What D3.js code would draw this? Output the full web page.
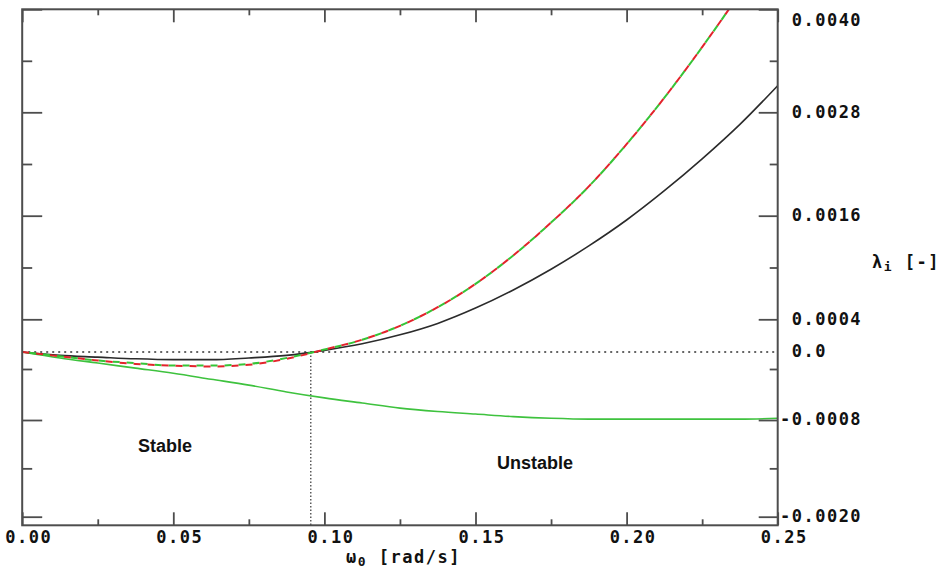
<!DOCTYPE html>
<html><head><meta charset="utf-8">
<script src="https://cdn.jsdelivr.net/npm/d3@7"></script>
<style>body{margin:0;background:#fff;overflow:hidden}</style>
</head><body><svg id="chart" width="942" height="572"></svg>
<script>
// ---- data ----
const omega = [0,0.0125,0.025,0.0375,0.05,0.0625,0.075,0.0875,0.1,0.1125,0.125,0.1375,0.15,0.1625,0.175,0.1875,0.2,0.2125,0.225,0.2375,0.25];
const blackSolid = [0,-0.00004,-0.00006,-0.00008,-0.00009,-0.00009,-0.00007,-0.00004,0.00002,0.00010,0.00021,0.00035,0.00053,0.00074,0.00098,0.00125,0.00155,0.00189,0.00226,0.00266,0.00311];
const redDashed = [0,-0.00005,-0.00010,-0.00014,-0.00016,-0.00017,-0.00015,-0.00008,0.00003,0.00015,0.00032,0.00054,0.00081,0.00114,0.00152,0.00194,0.00243,0.00297,0.00356,0.00419,0.00488];
const greenDashed = [0,-0.00005,-0.00010,-0.00013,-0.00016,-0.00016,-0.00014,-0.00007,0.00003,0.00015,0.00032,0.00054,0.00081,0.00114,0.00152,0.00194,0.00243,0.00297,0.00356,0.00419,0.00488];
const greenSolid = [0,-0.00007,-0.00013,-0.00019,-0.00025,-0.00032,-0.00039,-0.00047,-0.00054,-0.00060,-0.00066,-0.00070,-0.00073,-0.00076,-0.00078,-0.00079,-0.00079,-0.00079,-0.00079,-0.00079,-0.00078];
const xTickValues = [0,0.05,0.1,0.15,0.2,0.25];
const xTickLabels = ["0.00","0.05","0.10","0.15","0.20","0.25"];
const xMinorValues = [0.025,0.075,0.125,0.175,0.225];
const yTickValues = [0.004,0.0028,0.0016,0.0004,0,-0.0008,-0.002];
const yTickLabels = ["0.0040","0.0028","0.0016","0.0004","0.0","-0.0008","-0.0020"];
const yMajorValues = [0.004,0.0028,0.0016,0.0004,-0.0008,-0.002];
const yMinorValues = [0.0034,0.0022,0.001,-0.0002,-0.0014];
const criticalOmega = 0.0955;

// ---- layout ----
const L = 22.2, R = 777.7, T = 9.3, B = 525.3;
const svg = d3.select("#chart");
const x = d3.scaleLinear().domain([0, 0.25]).range([L, R]);
const y = d3.scaleLinear()
  .domain([-0.002, -0.0008, 0, 0.0004, 0.0016, 0.0028, 0.004])
  .range([516.7, 420, 352, 319.3, 215.7, 112.3, T]);

const mono = "'DejaVu Sans Mono', 'Liberation Mono', monospace";
const frameColor = "#4d4d4d";
const fs = 17, ls = 1.5;

svg.append("defs").append("clipPath").attr("id", "plotclip")
  .append("rect").attr("x", L).attr("y", T).attr("width", R - L).attr("height", B - T);

// zero dotted line
svg.append("line").attr("x1", L).attr("x2", R).attr("y1", y(0)).attr("y2", y(0))
  .attr("stroke", "#333").attr("stroke-width", 1.6).attr("stroke-dasharray", "2,4");
// critical vertical dotted line
svg.append("line").attr("x1", x(criticalOmega)).attr("x2", x(criticalOmega)).attr("y1", y(0)).attr("y2", B)
  .attr("stroke", "#333").attr("stroke-width", 1.2).attr("stroke-dasharray", "1.5,2");

// curves
const g = svg.append("g").attr("clip-path", "url(#plotclip)");
const line = vals => d3.line().x((d, i) => x(omega[i])).y(d => y(d)).curve(d3.curveMonotoneX)(vals);
g.append("path").attr("d", line(greenSolid)).attr("fill", "none").attr("stroke", "#3ec23e").attr("stroke-width", 1.6);
g.append("path").attr("d", line(blackSolid)).attr("fill", "none").attr("stroke", "#2b2b2b").attr("stroke-width", 1.6);
g.append("path").attr("d", line(greenDashed)).attr("fill", "none").attr("stroke", "#36c436").attr("stroke-width", 2)
  .attr("stroke-dasharray", "7,7").attr("stroke-dashoffset", 7);
g.append("path").attr("d", line(redDashed)).attr("fill", "none").attr("stroke", "#e3232b").attr("stroke-width", 2)
  .attr("stroke-dasharray", "7,7");

// axes ticks
function styleAxis(sel) {
  sel.select(".domain").remove();
  sel.selectAll(".tick line").attr("stroke", frameColor).attr("stroke-width", 1.8);
}
function styleText(sel) {
  sel.attr("font-family", mono).attr("font-weight", "bold").attr("font-size", fs)
    .attr("fill", "#111").attr("letter-spacing", ls + "px");
}
svg.append("g").attr("transform", `translate(0,${B})`)
  .call(d3.axisBottom(x).tickValues(xMinorValues).tickSize(-6).tickFormat("")).call(styleAxis);
svg.append("g").attr("transform", `translate(0,${B})`)
  .call(d3.axisBottom(x).tickValues(xTickValues).tickSize(-13).tickPadding(6)
    .tickFormat((d, i) => xTickLabels[i]))
  .call(styleAxis)
  .call(s => s.selectAll("text").call(styleText).attr("dx", 6));
svg.append("g").attr("transform", `translate(0,${T})`)
  .call(d3.axisTop(x).tickValues(xMinorValues).tickSize(-6).tickFormat("")).call(styleAxis);
svg.append("g").attr("transform", `translate(0,${T})`)
  .call(d3.axisTop(x).tickValues(xTickValues).tickSize(-13).tickFormat("")).call(styleAxis);
svg.append("g").attr("transform", `translate(${L},0)`)
  .call(d3.axisLeft(y).tickValues(yMinorValues).tickSize(-10).tickFormat("")).call(styleAxis);
svg.append("g").attr("transform", `translate(${L},0)`)
  .call(d3.axisLeft(y).tickValues(yMajorValues).tickSize(-20).tickFormat("")).call(styleAxis);
svg.append("g").attr("transform", `translate(${R},0)`)
  .call(d3.axisRight(y).tickValues(yMinorValues).tickSize(-8).tickFormat("")).call(styleAxis);
svg.append("g").attr("transform", `translate(${R},0)`)
  .call(d3.axisRight(y).tickValues(yMajorValues).tickSize(-19).tickFormat("")).call(styleAxis);
const charW = fs * 0.602 + ls;
svg.append("g").attr("transform", `translate(${R},0)`)
  .call(d3.axisRight(y).tickValues(yTickValues).tickSize(0).tickPadding(14)
    .tickFormat((d, i) => yTickLabels[i]))
  .call(s => s.select(".domain").remove())
  .call(s => s.selectAll(".tick").attr("transform", d => `translate(0,${Math.max(y(d), 20.5)})`))
  .call(s => s.selectAll("text").call(styleText).attr("dx", d => d < 0 ? -charW : 0));

// frame
svg.append("rect").attr("x", L).attr("y", T).attr("width", R - L).attr("height", B - T)
  .attr("fill", "none").attr("stroke", frameColor).attr("stroke-width", 2);

// axis titles
const xt = svg.append("text").attr("x", 346).attr("y", 563).call(styleText);
xt.append("tspan").text("ω");
xt.append("tspan").attr("dy", 3).attr("font-size", 13).text("0");
xt.append("tspan").attr("dy", -3).text(" [rad/s]");

const yt = svg.append("text").attr("x", 872).attr("y", 268).call(styleText);
yt.append("tspan").text("λ");
yt.append("tspan").attr("dy", 3).attr("font-size", 13).text("i");
yt.append("tspan").attr("dy", -3).text(" [-]");

// region labels
svg.append("text").attr("x", 138).attr("y", 452).attr("font-family", "'Liberation Sans', Arial, sans-serif")
  .attr("font-weight", "bold").attr("font-size", 18).attr("fill", "#111").text("Stable");
svg.append("text").attr("x", 497).attr("y", 469).attr("font-family", "'Liberation Sans', Arial, sans-serif")
  .attr("font-weight", "bold").attr("font-size", 18).attr("fill", "#111").text("Unstable");
</script>
</body></html>
